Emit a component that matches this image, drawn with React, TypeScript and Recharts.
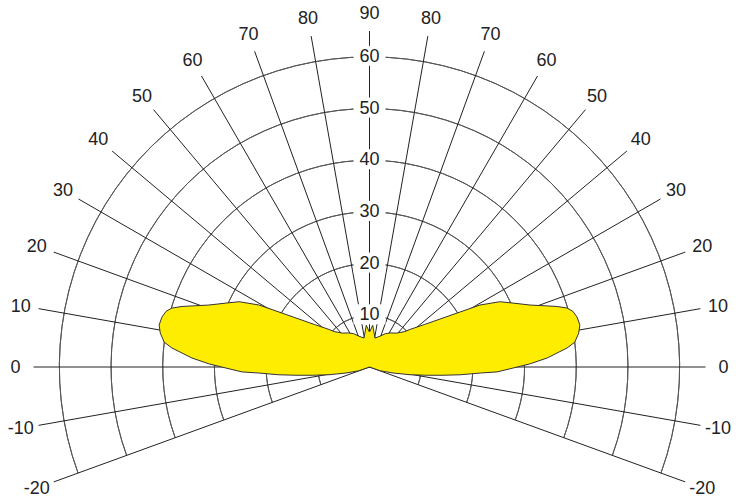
import React from 'react';
import {
  RadarChart,
  Radar,
  PolarGrid,
  PolarAngleAxis,
  PolarRadiusAxis,
  PieChart,
  Pie,
} from 'recharts';

// right half of the distribution (angle from the right horizontal, degrees)
const RIGHT_ANGLES = [
  -20, -19.4, -14.3, -10.8, -8.2, -6.4, -4.9, -3.1, -2.2, -0.4, 1.1, 2.9, 5.5, 6.9, 9.2, 11.3,
  13.5, 15.3, 16.6, 17.9, 19, 21.1, 24, 26.6, 29.3, 34.2, 37.6, 42.8, 45, 51.3, 58.9, 64.8, 71.1,
  79.3, 85.6, 89.2,
];
const RIGHT_VALUES = [
  0, 2.2, 4.7, 8, 11.2, 14.3, 17.6, 21.5, 24.7, 27.8, 31, 34.4, 38.4, 40, 41, 41.5, 41.3, 40.8,
  39.9, 38.1, 36.3, 33.3, 30.4, 28.2, 24.5, 16.5, 13.5, 10.7, 9.7, 8.4, 7.7, 7.1, 6.3, 5.7, 8.1,
  6.9,
];
const CENTER_VALUE = 6.8;

const ANGLE_TICKS = [
  -20, -10, 0, 10, 20, 30, 40, 50, 60, 70, 80, 90, 100, 110, 120, 130, 140, 150, 160, 170, 180,
  190, 200,
];
const RING_VALUES = [10, 20, 30, 40, 50, 60];
const RADIUS_MAX = 65;

const W = 736;
const H = 497;
const CX = 369.5;
const CY = 367;
const OUTER = 336;
const LABEL_R = 354;
const FONT = '"Liberation Sans", Arial, Helvetica, sans-serif';
const TEXT = '#222';

const data = [
  ...RIGHT_ANGLES.map((a, i) => ({ angle: a, r: RIGHT_VALUES[i] })),
  { angle: 90, r: CENTER_VALUE },
  ...RIGHT_ANGLES.map((a, i) => ({ angle: 180 - a, r: RIGHT_VALUES[i] })).reverse(),
];

const formatAngle = (v: number) => (v <= 90 ? v : 180 - v);

const AngleTick = (props: any) => {
  const { x, y, payload } = props;
  const dx = x - CX;
  const dy = y - CY;
  const len = Math.hypot(dx, dy) || 1;
  const lx = CX + (dx / len) * LABEL_R;
  const ly = CY + (dy / len) * LABEL_R;
  return (
    <text
      x={lx}
      y={ly}
      textAnchor="middle"
      dominantBaseline="central"
      fontSize={18}
      fontFamily={FONT}
      fill={TEXT}
    >
      {formatAngle(payload.value)}
    </text>
  );
};

const RadiusTick = (props: any) => {
  const { x, y, payload } = props;
  if (!RING_VALUES.includes(payload.value)) return <g />;
  return (
    <g>
      <rect x={x - 16} y={y - 11} width={32} height={20} fill="#fff" />
      <text
        x={x}
        y={y - 1}
        textAnchor="middle"
        dominantBaseline="central"
        fontSize={18}
        fontFamily={FONT}
        fill={TEXT}
      >
        {payload.value}
      </text>
    </g>
  );
};

const margin = { top: 0, right: 0, bottom: 0, left: 0 };

export default function App() {
  return (
    <div style={{ position: 'absolute', left: 0, top: 0, width: W, height: H, background: '#fff' }}>
      <div style={{ position: 'absolute', left: 0, top: 0 }}>
        <PieChart width={W} height={H} margin={margin}>
          {RING_VALUES.map((v) => {
            const r = (v / RADIUS_MAX) * OUTER;
            return (
              <Pie
                key={v}
                data={[{ value: 1 }]}
                dataKey="value"
                cx={CX}
                cy={CY}
                innerRadius={r}
                outerRadius={r}
                startAngle={-20}
                endAngle={200}
                fill="none"
                stroke="#555"
                strokeWidth={1}
                isAnimationActive={false}
              />
            );
          })}
        </PieChart>
      </div>
      <div style={{ position: 'absolute', left: 0, top: 0 }}>
        <RadarChart
          width={W}
          height={H}
          data={data}
          margin={margin}
          cx={CX}
          cy={CY}
          outerRadius={OUTER}
          startAngle={-20}
          endAngle={200}
        >
          <PolarGrid gridType="circle" polarAngles={ANGLE_TICKS} polarRadius={[0]} stroke="#222" />
          <PolarAngleAxis
            dataKey="angle"
            type="number"
            domain={[-20, 200]}
            tickCount={23}
            axisLine={false}
            tickLine={false}
            tick={<AngleTick />}
          />
          <PolarRadiusAxis
            angle={90}
            domain={[0, RADIUS_MAX]}
            tickCount={14}
            axisLine={false}
            tickLine={false}
            tick={<RadiusTick />}
          />
          <Radar
            dataKey="r"
            fill="#FFED00"
            fillOpacity={1}
            stroke="#333"
            strokeWidth={1}
            dot={false}
            isAnimationActive={false}
          />
        </RadarChart>
      </div>
    </div>
  );
}
